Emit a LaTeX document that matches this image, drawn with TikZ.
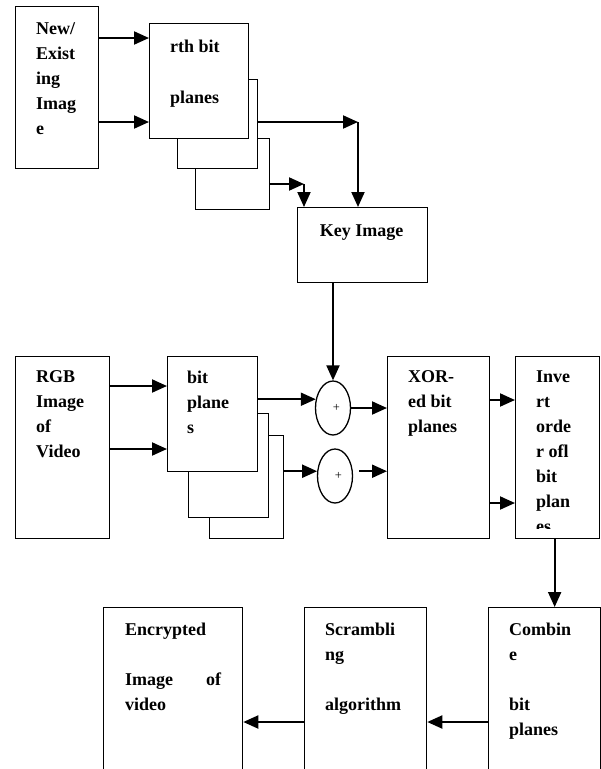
\documentclass[tikz,border=0pt]{standalone}
\usepackage{fontspec}
\setmainfont{Liberation Serif}
\usetikzlibrary{positioning, calc, shapes.geometric, arrows.meta}

\begin{document}
\begin{tikzpicture}[
    x=1pt, y=-1pt,
    box/.style={rectangle, draw, line width=1.3pt, fill=white, inner sep=0pt,
                anchor=north west},
    txt/.style={anchor=north west, inner sep=0pt, align=left,
                font=\fontsize{18}{25}\selectfont\bfseries},
    xr/.style={ellipse, draw, line width=1.3pt, minimum width=35pt,
               minimum height=54pt, inner sep=0pt, font=\fontsize{12.5}{14}\selectfont},
    conn/.style={line width=2pt, -{Triangle[length=15pt, width=13pt]}},
  ]
    \useasboundingbox (0,0) rectangle (601,769);
    \clip (0,0) rectangle (601,769);

    % key image part
    \node[box, minimum width=83pt, minimum height=162pt] (NEW) at (15,6) {};
    \node[txt] (NEWt) at ($(NEW.north west)+(21,16.5)$)
      {New/\\Exist\\ing\\Imag\\e};
    \node[box, minimum width=74pt, minimum height=71pt] (RTH3) at (195,138) {};
    \node[box, minimum width=80pt, minimum height=89pt] (RTH2) at (177,79) {};
    \node[box, minimum width=99pt, minimum height=115pt] (RTH) at (149,23) {};
    \node[txt] (RTHt) at ($(RTH.north west)+(21,16.5)$)
      {rth bit\\[1pt]~\\planes};
    \node[box, minimum width=130pt, minimum height=75pt] (KEY) at (297,207) {};
    \node[txt, anchor=base] (KEYt) at ($(KEY.north)+(-1,29)$) {Key Image};

    \coordinate (K1) at (358,122);
    \coordinate (K2) at (304,184);
    \draw[conn] (NEW.east |- 0,38) -- (RTH.west |- 0,38);
    \draw[conn] (NEW.east |- 0,122) -- (RTH.west |- 0,122);
    \draw[conn] (RTH2.east |- K1) -- (K1);
    \draw[conn] (K1) -- (K1 |- KEY.north);
    \draw[conn] (RTH3.east |- K2) -- (K2);
    \draw[conn] (K2) -- (K2 |- KEY.north);

    % video part
    \node[box, minimum width=94pt, minimum height=182pt] (RGB) at (15,356) {};
    \node[txt] (RGBt) at ($(RGB.north west)+(21,14.7)$)
      {RGB\\Image\\of\\Video};
    \node[box, minimum width=74pt, minimum height=103pt] (BP3) at (209,435) {};
    \node[box, minimum width=80pt, minimum height=104pt] (BP2) at (188,413) {};
    \node[box, minimum width=90pt, minimum height=115pt] (BP) at (167,356) {};
    \node[txt] (BPt) at ($(BP.north west)+(20,14.7)$) {bit\\plane\\s};
    \node[xr] (XA) at (333,408) {\hspace*{7pt}+};
    \node[xr] (XB) at (335,476) {\hspace*{7pt}+};
    \node[box, minimum width=102pt, minimum height=182pt] (XOR) at (387,356) {};
    \node[txt] (XORt) at ($(XOR.north west)+(21,14.7)$) {XOR-\\ed bit\\planes};
    \node[box, minimum width=84pt, minimum height=182pt] (INV) at (515,356) {};
    \begin{scope}
      \clip (INV.north west) rectangle ([yshift=11pt]INV.south east);
      \node[txt] (INVt) at ($(INV.north west)+(21,14.7)$)
        {Inve\\rt\\orde\\r ofl\\bit\\plan\\es};
    \end{scope}

    \draw[conn] (RGB.east |- 0,386) -- (BP.west |- 0,386);
    \draw[conn] (RGB.east |- 0,449) -- (BP.west |- 0,449);
    \draw[conn] (XA.north |- KEY.south) -- (XA.north);
    \draw[conn] (BP.east |- XA.153) -- (XA.153);
    \draw[conn] (BP3.east |- XB.165) -- (XB.165);
    \draw[conn] (XA.east) -- (XA.east -| XOR.west);
    \draw[conn, shorten <=6pt] (XB.165 -| XB.east) -- (XB.165 -| XOR.west);
    \draw[conn] (XOR.east |- 0,400) -- (INV.west |- 0,400);
    \draw[conn] (XOR.east |- 0,503) -- (INV.west |- 0,503);

    % output part
    \node[box, minimum width=112pt, minimum height=200pt] (COMB) at (488,607) {};
    \node[txt] (COMBt) at ($(COMB.north west)+(21,15.7)$)
      {Combin\\e\\~\\bit\\planes};
    \node[box, minimum width=122pt, minimum height=200pt] (SCR) at (304,607) {};
    \node[txt] (SCRt) at ($(SCR.north west)+(21,15.7)$)
      {Scrambli\\ng\\~\\algorithm};
    \node[box, minimum width=139pt, minimum height=200pt] (ENC) at (103,607) {};
    \node[txt] (ENCt) at ($(ENC.north west)+(22,15.7)$)
      {Encrypted\\~\\\makebox[96pt][l]{Image\hfill of}\\video};

    \draw[conn] ([xshift=-3pt]INV.south) -- ([xshift=-3pt]INV.south |- COMB.north);
    \draw[conn] (COMB.west |- 0,722) -- (SCR.east |- 0,722);
    \draw[conn] (SCR.west |- 0,722) -- (ENC.east |- 0,722);
  \end{tikzpicture}
\end{document}
